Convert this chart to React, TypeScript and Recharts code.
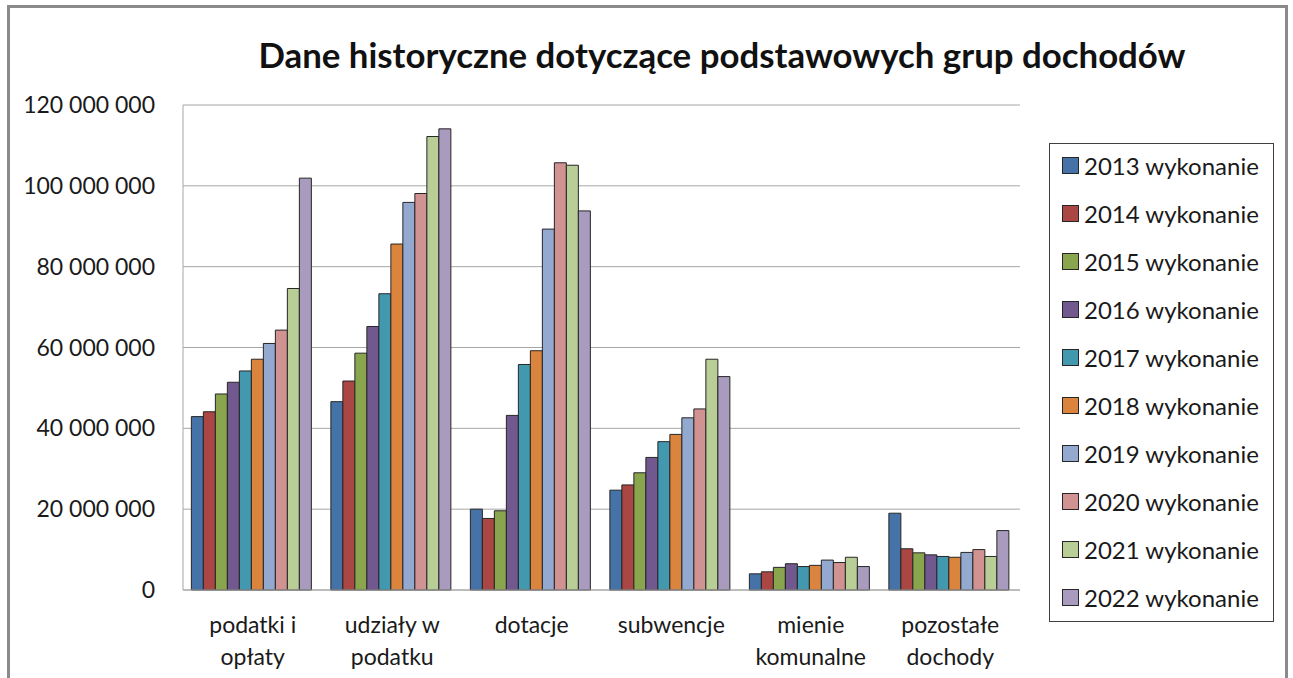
import React from 'react';
import { Bar, BarChart, CartesianGrid, Legend, XAxis, YAxis } from 'recharts';

const categories = ['podatki i\nopłaty', 'udziały w\npodatku', 'dotacje', 'subwencje', 'mienie\nkomunalne', 'pozostałe\ndochody'];

const years = ['2013', '2014', '2015', '2016', '2017', '2018', '2019', '2020', '2021', '2022'];

// values per category, in millions
const v2013 = [42.9, 46.6, 20.0, 24.7, 4.0, 19.0];
const v2014 = [44.1, 51.7, 17.7, 26.0, 4.5, 10.2];
const v2015 = [48.5, 58.6, 19.6, 29.0, 5.6, 9.2];
const v2016 = [51.4, 65.2, 43.2, 32.8, 6.5, 8.7];
const v2017 = [54.2, 73.3, 55.8, 36.7, 5.8, 8.3];
const v2018 = [57.1, 85.6, 59.2, 38.5, 6.1, 8.1];
const v2019 = [61.0, 95.9, 89.3, 42.6, 7.4, 9.3];
const v2020 = [64.3, 98.1, 105.7, 44.8, 6.8, 10.0];
const v2021 = [74.6, 112.2, 105.1, 57.1, 8.1, 8.3];
const v2022 = [101.9, 114.1, 93.8, 52.8, 5.8, 14.7];

const yTicks = [0, 20000000, 40000000, 60000000, 80000000, 100000000, 120000000];

const colors = ['#4572A7', '#AA4643', '#89A54E', '#71588F', '#4198AF', '#DB843D', '#93A9CF', '#D19392', '#B9CD96', '#A99BBD'];

const series = [v2013, v2014, v2015, v2016, v2017, v2018, v2019, v2020, v2021, v2022];

const data = categories.map((name, i) => {
	const row: Record<string, string | number> = { name };
	years.forEach((y, s) => {
		row['y' + y] = Math.round(series[s][i] * 1000000);
	});
	return row;
});

const font = 'Lato, "Open Sans", sans-serif';

const fmt = (v: number) => String(v).replace(/\B(?=(\d{3})+(?!\d))/g, ' ');

function CategoryTick(props: any) {
	const { x, y, payload } = props;
	const lines = String(payload.value).split('\n');
	return (
		<text x={x} y={y} textAnchor="middle" fill="#1a1a1a" fontSize={23} fontFamily={font}>
			{lines.map((l, i) => (
				<tspan key={i} x={x} dy={i === 0 ? 35 : 32}>
					{l}
				</tspan>
			))}
		</text>
	);
}

function LegendBox(props: any) {
	const { payload } = props;
	return (
		<div
			style={{
				boxSizing: 'border-box',
				width: 225,
				height: 479,
				border: '1px solid #404040',
				background: '#fff',
				fontFamily: font,
			}}
		>
			<div style={{ marginTop: -3 }}>
				{(payload || []).map((p: any) => (
					<div key={p.value} style={{ height: 48, display: 'flex', alignItems: 'center', paddingLeft: 12 }}>
						<span
							style={{
								display: 'inline-block',
								boxSizing: 'border-box',
								width: 17,
								height: 17,
								background: p.color,
								border: '1px solid #262626',
								marginRight: 5,
							}}
						/>
						<span style={{ fontSize: 24, color: '#1a1a1a' }}>{p.value}</span>
					</div>
				))}
			</div>
		</div>
	);
}

export default function App() {
	return (
		<div style={{ position: 'relative', width: 1277, height: 662 }}>
			<style>{'html,body{overflow:hidden}'}</style>
			<div
				style={{
					position: 'fixed',
					left: 7,
					top: 5,
					width: 1281,
					height: 700,
					boxSizing: 'border-box',
					border: '3px solid #8a8a8a',
					zIndex: 5,
					pointerEvents: 'none',
				}}
			/>
			<div
				style={{
					position: 'absolute',
					left: 214,
					top: 27,
					width: 1000,
					textAlign: 'center',
					fontFamily: font,
					fontWeight: 700,
					fontSize: 34.8,
					lineHeight: '40px',
					color: '#111',
					zIndex: 2,
				}}
			>
				Dane historyczne dotyczące podstawowych grup dochodów
			</div>
			<BarChart
				width={1277}
				height={670}
				data={data}
				margin={{ top: 97, right: 265, bottom: 0, left: 0 }}
				barCategoryGap="6%"
				barGap={0}
			>
				<CartesianGrid vertical={false} stroke="#a6a6a6" />
				<XAxis
					dataKey="name"
					height={88}
					axisLine={{ stroke: '#a6a6a6' }}
					tickLine={false}
					tick={<CategoryTick />}
					interval={0}
				/>
				<YAxis
					width={175}
					domain={[0, 120000000]}
					ticks={yTicks}
					tickFormatter={fmt}
					axisLine={{ stroke: '#a6a6a6' }}
					tickLine={false}
					tickMargin={22}
					tick={{ fill: '#1a1a1a', fontSize: 23, fontFamily: font }}
				/>
				<Legend
					layout="vertical"
					align="center"
					verticalAlign="middle"
					wrapperStyle={{ left: 1041, top: 135, width: 225 }}
					content={<LegendBox />}
				/>
				{years.map((y, i) => (
					<Bar
						key={y}
						dataKey={'y' + y}
						name={y + ' wykonanie'}
						fill={colors[i]}
						stroke="#262626"
						strokeWidth={1}
						isAnimationActive={false}
					/>
				))}
			</BarChart>
		</div>
	);
}
